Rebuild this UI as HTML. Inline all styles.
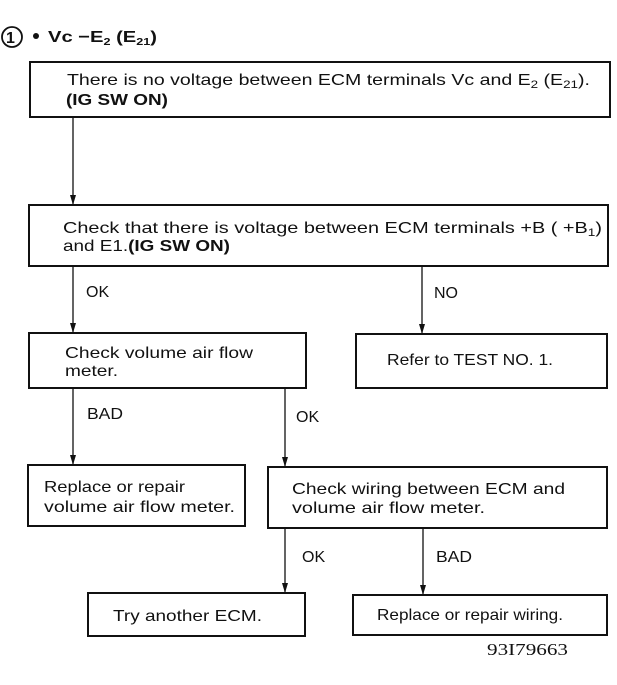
<!DOCTYPE html>
<html><head><meta charset="utf-8"><style>
html,body{margin:0;padding:0;background:#fff;}
svg{display:block;}
text{font-family:"Liberation Sans",sans-serif;font-size:16px;fill:#111;}
.b{font-weight:bold;}
</style></head><body>
<svg width="617" height="685" viewBox="0 0 617 685">
<defs><marker id="a" markerWidth="10" markerHeight="6" refX="10" refY="3" orient="auto" markerUnits="userSpaceOnUse"><path d="M0,0 L10,3 L0,6 Z" fill="#111"/></marker></defs>
<g fill="none" stroke="#111" stroke-width="2">
<circle cx="12" cy="37" r="10" stroke-width="1.8"/>
<rect x="30" y="62" width="580" height="55"/>
<rect x="29" y="205" width="579" height="61"/>
<rect x="29" y="333" width="277" height="55"/>
<rect x="356" y="334" width="251" height="54"/>
<rect x="28" y="465" width="217" height="61"/>
<rect x="268" y="467" width="339" height="61"/>
<rect x="88" y="593" width="217" height="43"/>
<rect x="353" y="595" width="254" height="40"/>
</g>
<g stroke="#111" stroke-width="1.3" marker-end="url(#a)">
<line x1="73" y1="117" x2="73" y2="205"/>
<line x1="73" y1="266" x2="73" y2="333"/>
<line x1="422" y1="266" x2="422" y2="334"/>
<line x1="73" y1="388" x2="73" y2="465"/>
<line x1="285" y1="388" x2="285" y2="467"/>
<line x1="285" y1="528" x2="285" y2="593"/>
<line x1="423" y1="528" x2="423" y2="595"/>
</g>
<text x="6" y="43" class="b" font-size="17">1</text>
<circle cx="36" cy="36" r="3" fill="#111"/>
<text x="48" y="42" class="b" font-size="15" textLength="109" lengthAdjust="spacingAndGlyphs">Vc −E<tspan font-size="10" dy="3">2</tspan><tspan dy="-3"> (E</tspan><tspan font-size="10" dy="3">21</tspan><tspan dy="-3">)</tspan></text>
<text x="67" y="85" textLength="523" lengthAdjust="spacingAndGlyphs">There is no voltage between ECM terminals Vc and E<tspan font-size="11" dy="3">2</tspan><tspan dy="-3"> (E</tspan><tspan font-size="11" dy="3">21</tspan><tspan dy="-3">).</tspan></text>
<text x="66" y="105" class="b" textLength="102" lengthAdjust="spacingAndGlyphs">(IG SW ON)</text>
<text x="63" y="233" textLength="539" lengthAdjust="spacingAndGlyphs">Check that there is voltage between ECM terminals  +B ( +B<tspan font-size="11" dy="3">1</tspan><tspan dy="-3">)</tspan></text>
<text x="63" y="251" textLength="167" lengthAdjust="spacingAndGlyphs">and E1.<tspan class="b">(IG SW ON)</tspan></text>
<text x="86" y="297">OK</text>
<text x="434" y="298">NO</text>
<text x="65" y="358" textLength="188" lengthAdjust="spacingAndGlyphs">Check volume air flow</text>
<text x="65" y="376" textLength="53" lengthAdjust="spacingAndGlyphs">meter.</text>
<text x="387" y="365" textLength="166" lengthAdjust="spacingAndGlyphs">Refer to TEST NO. 1.</text>
<text x="87" y="419" textLength="36" lengthAdjust="spacingAndGlyphs">BAD</text>
<text x="296" y="422">OK</text>
<text x="44" y="492" textLength="141" lengthAdjust="spacingAndGlyphs">Replace or repair</text>
<text x="44" y="512" textLength="191" lengthAdjust="spacingAndGlyphs">volume air flow meter.</text>
<text x="292" y="494" textLength="273" lengthAdjust="spacingAndGlyphs">Check wiring between ECM and</text>
<text x="292" y="513" textLength="193" lengthAdjust="spacingAndGlyphs">volume air flow meter.</text>
<text x="302" y="562">OK</text>
<text x="436" y="562" textLength="36" lengthAdjust="spacingAndGlyphs">BAD</text>
<text x="113" y="621" textLength="149" lengthAdjust="spacingAndGlyphs">Try another ECM.</text>
<text x="377" y="620" textLength="186" lengthAdjust="spacingAndGlyphs">Replace or repair wiring.</text>
<text x="487" y="655" style="font-family:'Liberation Serif',serif;font-size:17px" textLength="81" lengthAdjust="spacingAndGlyphs">93I79663</text>
</svg>
</body></html>
